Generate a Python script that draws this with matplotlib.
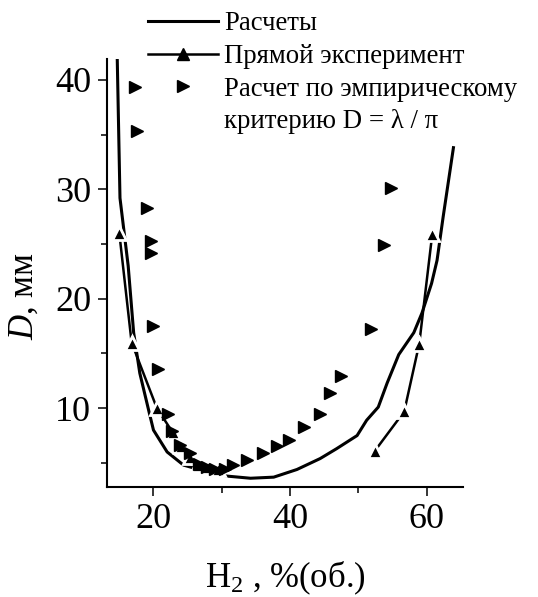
import numpy as np
import matplotlib.pyplot as plt
from matplotlib.lines import Line2D

plt.rcParams['font.family'] = ['Liberation Serif', 'DejaVu Serif']
plt.rcParams['mathtext.fontset'] = 'custom'
plt.rcParams['mathtext.rm'] = 'Liberation Serif'
plt.rcParams['mathtext.it'] = 'Liberation Serif:italic'

############## DATA #####################
# calculated curve
calc_x = [14.7, 15.1, 16.3, 17.1, 18.0, 19.3, 20.0, 22.0, 24.4, 27.8, 30.7, 34.2,
          37.6, 41.0, 44.4, 46.8, 49.8, 51.2, 52.9, 54.2, 55.9, 58.1, 59.3, 60.7,
          61.5, 62.4, 63.9]
calc_y = [41.9, 29.2, 23.0, 16.9, 13.2, 9.8, 8.0, 6.0, 4.8, 4.2, 3.8, 3.6,
          3.7, 4.4, 5.4, 6.3, 7.5, 8.9, 10.1, 12.3, 14.9, 16.9, 18.7, 21.4,
          23.5, 27.5, 33.8]

# direct experiment (two branches)
exp_left_x = [15.0, 16.8, 20.5, 22.8, 24.0, 25.3, 26.5, 28.0, 29.5]
exp_left_y = [26.0, 16.0, 10.0, 7.8, 6.5, 5.5, 4.8, 4.6, 4.4]
exp_right_x = [52.4, 56.7, 58.9, 60.8]
exp_right_y = [6.1, 9.7, 15.9, 25.9]

# empirical criterion D = lambda / pi
emp_x = [17.3, 17.6, 19.0, 19.6, 19.6, 20.0, 20.6, 22.2, 22.7, 23.9, 25.4, 26.6,
         27.8, 29.0, 30.5, 31.7, 33.7, 36.1, 38.1, 39.8, 42.1, 44.3, 45.9, 47.5,
         51.9, 53.8, 54.8]
emp_y = [39.3, 35.3, 28.3, 25.3, 24.2, 17.5, 13.6, 9.5, 7.9, 6.6, 5.9, 4.9,
         4.6, 4.4, 4.4, 4.8, 5.3, 5.9, 6.5, 7.1, 8.3, 9.5, 11.4, 12.9,
         17.2, 24.9, 30.1]

############## PLOT #####################
fig = plt.figure(figsize=(5.38, 5.97), dpi=100)
ax = fig.add_axes([107/538, 1-487/597, 356/538, 428/597])

ax.plot(calc_x, calc_y, color='black', lw=2.2, zorder=2)
ax.plot(exp_left_x, exp_left_y, color='black', lw=1.8, zorder=3)
ax.plot(exp_right_x, exp_right_y, color='black', lw=1.8, zorder=3)
ax.plot(exp_left_x + exp_right_x, exp_left_y + exp_right_y, ls='none', marker='^',
        ms=10, mfc='black', mec='white', mew=2.0, zorder=4)
ax.plot(emp_x, emp_y, ls='none', marker='>', ms=8, color='black', zorder=5)

ax.set_xlim(13.2, 65.3)
ax.set_ylim(2.8, 41.9)
ax.set_xticks([20, 40, 60])
ax.set_xticks([30, 50], minor=True)
ax.set_yticks([10, 20, 30, 40])
ax.set_yticks([5, 15, 25, 35], minor=True)
ax.spines['top'].set_visible(False)
ax.spines['right'].set_visible(False)
for s in ['left', 'bottom']:
    ax.spines[s].set_linewidth(1.5)
ax.tick_params(which='major', length=6.5, width=1.1, labelsize=26, pad=5)
ax.tick_params(which='minor', length=4, width=1.1)

ax.set_xlabel(r'$\mathrm{H}_2$ , %(об.)', fontsize=25)
ax.xaxis.set_label_coords(0.5, -0.17)
ax.set_ylabel(r'$\mathit{D}$, мм', fontsize=25)
ax.yaxis.set_label_coords(-0.186, 0.446)

handles = [Line2D([], [], color='black', lw=2.2),
           Line2D([], [], color='black', lw=1.8, marker='^', ms=9),
           Line2D([], [], ls='none', marker='>', ms=8, color='black'),
           Line2D([], [], ls='none')]
labels = ['Расчеты', 'Прямой эксперимент', 'Расчет по эмпирическому',
          'критерию D = λ / π']
fig.legend(handles, labels, loc='upper left', bbox_to_anchor=(148/538, 1-11.5/597),
           frameon=False, fontsize=19.3, handlelength=2.6, handletextpad=0.25,
           labelspacing=0.28, borderpad=0, borderaxespad=0)

plt.savefig('out.png', dpi=100)
